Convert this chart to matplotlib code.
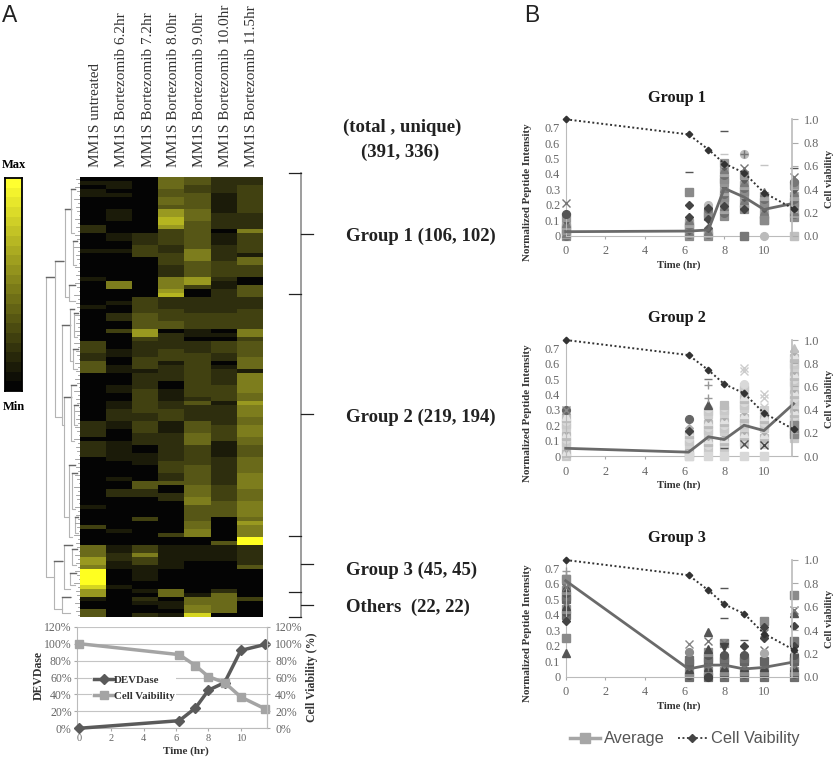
import numpy as np
import matplotlib
matplotlib.use("Agg")
import matplotlib.pyplot as plt
from matplotlib.colors import LinearSegmentedColormap
from matplotlib.lines import Line2D

W, H = 837, 758
SERIF = "Liberation Serif"
SANS = "Liberation Sans"

# heatmap levels 0-10, run length coded (rows, level), one list per column
sample_labels = ["MM1S untreated", "MM1S Bortezomib 6.2hr", "MM1S Bortezomib 7.2hr",
                 "MM1S Bortezomib 8.0hr", "MM1S Bortezomib 9.0hr",
                 "MM1S Bortezomib 10.0hr", "MM1S Bortezomib 11.5hr"]
col0 = [(1,0),(1,1),(1,0),(2,1),(7,0),(2,2),(4,0),(1,1),(6,0),(1,1),(6,0),(1,1),(8,0),(3,3),(2,2),(3,4),
        (12,0),(4,2),(1,0),(4,2),(12,0),(1,1),(4,0),(1,3),(4,0),(3,5),(2,7),(1,6),(4,10),(1,9),(2,7),(1,1),(2,0),(2,4)]
col1 = [(1,0),(2,1),(1,0),(1,1),(3,0),(3,1),(3,0),(2,1),(2,0),(1,1),(7,0),(2,6),(3,0),(1,1),(2,0),(2,2),(2,0),(1,3),(2,0),
        (2,0),(2,1),(2,0),(2,1),(3,0),(2,1),(2,0),(2,1),(3,2),(2,1),(3,0),(5,1),(4,0),(1,1),(2,0),(2,2),(8,0),(1,1),(3,0),
        (2,1),(2,2),(2,1),(4,0),(1,1),(7,0)]
col2 = [(14,0),(3,2),(3,3),(10,0),(4,3),(4,4),(2,7),(1,3),(4,2),(3,3),(1,1),(4,2),(3,3),(3,3),(2,2),(3,3),(3,2),(2,0),(3,1),
        (4,0),(2,4),(2,2),(5,0),(1,3),(6,0),(2,3),(1,6),(2,3),(4,1),(2,0),(1,1),(1,0),(1,2),(1,1),(2,0),(1,2)]
col3 = [(3,5),(2,4),(2,5),(1,4),(2,7),(2,8),(1,7),(1,3),(3,3),(2,2),(3,3),(3,2),(3,6),(1,7),(1,8),(3,2),(3,3),(2,4),(1,0),
        (4,2),(3,3),(1,1),(4,2),(2,0),(3,1),(2,2),(3,3),(3,1),(3,2),(4,2),(3,3),(2,2),(1,4),(2,0),(2,2),(8,0),(1,3),(2,0),
        (6,1),(5,0),(2,5),(1,0),(2,1),(1,0),(1,1)]
col4 = [(2,4),(2,3),(4,4),(3,5),(3,4),(4,4),(3,6),(4,4),(2,7),(1,3),(2,0),(4,2),(4,3),(2,1),(1,0),(3,2),(3,3),(4,3),(4,3),
        (1,2),(1,4),(4,2),(3,4),(3,5),(5,3),(5,4),(3,5),(2,6),(4,4),(2,5),(2,6),(2,0),(4,1),(8,0),(1,1),(2,5),(2,6),(1,9)]
col5 = [(4,2),(5,1),(4,2),(1,0),(3,1),(4,2),(4,3),(1,2),(2,1),(2,2),(4,2),(4,3),(1,0),(1,1),(1,0),(3,3),(2,2),(1,0),(1,1),
        (4,2),(4,3),(1,1),(5,2),(4,3),(4,1),(7,2),(4,3),(4,4),(6,0),(1,4),(4,1),(7,0),(1,2),(5,5),(1,0)]
col6 = [(2,2),(7,3),(4,2),(1,6),(5,3),(1,1),(2,5),(3,3),(2,0),(3,4),(3,2),(5,3),(2,6),(1,3),(4,4),(3,5),(1,1),(5,6),(2,5),(1,7),
        (3,6),(2,5),(3,6),(2,5),(3,4),(4,5),(4,6),(3,5),(4,6),(1,5),(1,7),(3,6),(2,10),(5,2),(1,4),(7,0),(1,3),(4,0)]
heat_cols = [col0, col1, col2, col3, col4, col5, col6]

# dendrogram nodes: (left x, top row, bottom row, top child x, bottom child x), x in px from panel left
dend_nodes = [(1,25,100,10,9),(10,21,60,20,17),(20,8,30,26,24),(26,3,14,30,29),(28,16,22,32,31),(24,27,31,30,30),
              (17,37,62,25,19),(25,33,46,29,28),(29,34,40,33,32),(28,43,48,33,32),(19,55,85,26,24),(26,52,66,31,29),
              (29,57,62,33,32),(24,72,90,30,27),(27,74,83,32,30),(30,85,89,33,33),(9,96,108,19,17),(19,92,103,27,25),
              (27,93,97,32,31),(25,99,102,31,30),(17,105,109,26,25)]
leaf_offsets = [31,33,30,32,34,29,33,31,32,34,30,33]

# DEVDase panel
time_hr = [0, 6.2, 7.2, 8, 9, 10, 11.5]
devdase = [0, 9, 24, 45, 54, 92, 99]
cell_viability_pct = [100, 87, 74, 61, 54, 37, 23]

# panel B
viability = [1.0, 0.87, 0.74, 0.62, 0.54, 0.37, 0.23]
g1_avg = [0.026, 0.03, 0.037, 0.307, 0.25, 0.17, 0.21]
g2_avg = [0.05, 0.025, 0.125, 0.107, 0.2, 0.165, 0.34]
g3_avg = [0.62, 0.05, 0.075, 0.075, 0.05, 0.06, 0.095]

g1_cols = [[0,0,.01,.02,.03,.04,.05,.06,.07,.08,.1,.12],
           [0,.01,.02,.03,.04,.05,.06,.07,.08,.1],
           [0,.01,.02,.03,.05,.13,.15,.17],
           [.13,.15,.17,.19,.21,.23,.25,.27,.29,.31,.33,.35,.37,.39,.41,.43,.45,.47],
           [.17,.19,.21,.23,.25,.27,.29,.31,.33,.35,.37,.39],
           [.1,.12,.14,.16,.18,.2,.22,.24,.26,.28],
           [.12,.14,.15,.16,.18,.2,.22,.24,.26,.28,.3,.33]]
g1_extra = [(0,.21,'x','#777777'),(0,.14,'o','#555555'),(6.2,.12,'D','#444444'),(6.2,.2,'D','#444444'),(6.2,.28,'s','#8a8a8a'),
            (6.2,.41,'_','#555555'),(7.2,.2,'o','#bbbbbb'),(7.2,.18,'D','#444444'),(7.2,.11,'D','#444444'),(8,.53,'_','#c4c4c4'),
            (8,.68,'_','#555555'),(8,.19,'D','#444444'),(9,.53,'o','#bbbbbb'),(9,.53,'+','#777777'),(9,.44,'x','#777777'),
            (9,.17,'D','#444444'),(9,0,'s','#777777'),(10,.46,'_','#c4c4c4'),(10,.1,'s','#8a8a8a'),(10,0,'o','#bbbbbb'),
            (11.5,.38,'x','#777777'),(11.5,.35,'o','#777777'),(11.5,.44,'_','#555555'),(11.5,0,'s','#c0c0c0')]

g2_cols = [[0,.01,.02,.03,.05,.07,.09,.11,.13,.15,.17,.19,.21,.23,.25,.26],
           [0,.01,.02,.04,.06,.08,.1,.12,.14,.16,.18],
           [.05,.07,.09,.11,.13,.15,.17,.19,.21,.23,.25,.27,.29,.31],
           [.06,.08,.1,.12,.14,.16,.18,.2,.22,.24,.26,.28,.3,.32,.33],
           [.09,.11,.13,.15,.17,.19,.21,.23,.25,.27,.29,.31,.33,.35,.37,.39,.41,.43,.45,.47],
           [.08,.1,.12,.14,.16,.18,.2,.22,.24,.26,.28,.3],
           [.12,.14,.16,.18,.2,.22,.24,.26,.28,.3,.32,.34,.36,.38,.4,.42,.44,.46,.48,.5,.52,.54,.56,.58,.6,.62,.64,.66,.68]]
g2_extra = [(0,.3,'o','#666666'),(0,.3,'x','#888888'),(6.2,.24,'o','#666666'),(6.2,.16,'D','#444444'),(6.2,0,'s','#d8d8d8'),
            (7.2,.33,'^','#555555'),(7.2,.38,'+','#999999'),(7.2,.46,'+','#999999'),(7.2,.5,'_','#777777'),(7.2,0,'s','#d8d8d8'),
            (8,0,'s','#d8d8d8'),(8,.05,'_','#555555'),(9,.57,'x','#cccccc'),(9,.55,'x','#cccccc'),(9,.08,'x','#555555'),
            (9,0,'s','#d8d8d8'),(10,.4,'x','#cccccc'),(10,.38,'x','#cccccc'),(10,.32,'x','#cccccc'),(10,.07,'x','#444444'),
            (10,0,'s','#d8d8d8'),(11.5,.7,'^','#c0c0c0'),(11.5,.2,'s','#888888'),(11.5,.17,'D','#777777'),(11.5,.14,'s','#888888')]

g3_cols = [[.4,.42,.44,.46,.48,.5,.52,.54,.56,.58,.6],
           [0,.01,.03,.05,.07,.09,.11],
           [0,.02,.04,.06,.08,.1,.12,.14,.16,.18],
           [0,.02,.04,.06,.08,.1,.12,.14],
           [0,.02,.04,.06,.08,.1,.12,.14],
           [0,.02,.04,.06,.08,.1],
           [0,.02,.04,.06,.08,.1,.12,.14]]
g3_extra = [(0,.25,'s','#8a8a8a'),(0,.15,'^','#555555'),(0,.36,'D','#444444'),(0,.58,'x','#777777'),(0,.66,'+','#999999'),
            (0,.68,'+','#999999'),(0,.63,'s','#8a8a8a'),(6.2,.16,'o','#8a8a8a'),(6.2,.21,'x','#888888'),(7.2,.29,'^','#555555'),
            (7.2,.23,'x','#777777'),(7.2,0,'o','#444444'),(7.2,.06,'+','#777777'),(8,.22,'s','#8a8a8a'),(8,.22,'x','#777777'),
            (8,.57,'_','#555555'),(8,.38,'_','#555555'),(8,.19,'v','#444444'),(9,.24,'_','#555555'),(9,.2,'D','#444444'),
            (10,.36,'s','#8a8a8a'),(10,.28,'x','#777777'),(10,.17,'x','#777777'),(10,.25,'D','#444444'),(10,.32,'D','#444444'),
            (10,.15,'o','#aaaaaa'),(11.5,.53,'s','#8a8a8a'),(11.5,.41,'^','#555555'),(11.5,.43,'x','#777777'),(11.5,.33,'D','#444444'),
            (11.5,.23,'s','#777777'),(11.5,.2,'D','#444444')]

g1_colors = ['#8c8c8c','#6e6e6e','#a3a3a3','#7a7a7a','#5c5c5c','#969696']
g2_colors = ['#c9c9c9','#d9d9d9','#bcbcbc','#e2e2e2','#adadad','#d0d0d0']
g3_colors = ['#6e6e6e','#555555','#8c8c8c','#4a4a4a','#7a7a7a','#646464']
cycle_markers = ['s','o','s','^','D','s']
marker_sizes = {'s':5.6,'o':5.6,'^':5.6,'v':5.6,'D':3.7,'x':5.5,'+':6,'_':6}


def axes_px(fig, left, top, right, bottom):
    return fig.add_axes([left / W, 1 - bottom / H, (right - left) / W, (bottom - top) / H])


def fig_text(fig, x, y, s, **kw):
    kw.setdefault("family", SERIF)
    kw.setdefault("ha", "center")
    kw.setdefault("va", "center")
    fig.text(x / W, 1 - y / H, s, **kw)


fig = plt.figure(figsize=(W / 100, H / 100), dpi=100)

# letters
fig_text(fig, 10, 16, "A", family=SANS, fontsize=16.5, color="#222222")
fig_text(fig, 532, 16, "B", family=SANS, fontsize=16.5, color="#222222")

# heatmap
heat_cmap = LinearSegmentedColormap.from_list("by", ["#040404", "#1c1c0a", "#2e2e0e", "#424212", "#565616", "#6a6a1a",
                                                     "#7e7e1e", "#999920", "#b5b520", "#d5d520", "#ffff20"])
bar_cmap = LinearSegmentedColormap.from_list("bar", ["#040404", "#ffff30"])
heat = np.column_stack([np.repeat([r[1] for r in c], [r[0] for r in c]) for c in heat_cols])
ax = axes_px(fig, 80, 177, 263, 617)
ax.imshow(heat, cmap=heat_cmap, vmin=0, vmax=10, aspect="auto", interpolation="nearest")
ax.axis("off")

for i, label in enumerate(sample_labels):
    fig_text(fig, 96 + i * 26, 167, label, rotation=90, va="bottom", fontsize=11, color="#333333")

# dendrogram
ax = axes_px(fig, 45, 177, 80, 617)
ax.set_xlim(0, 35)
ax.set_ylim(110, 0)
ax.axis("off")
for x0, r0, r1, xa, xb in dend_nodes:
    ax.plot([xa, x0, x0, xb], [r0, r0, r1, r1], color="#b4b4b4", lw=0.8)
    ax.plot([x0, min(xa, x0 + 8)], [r0, r0], color="#666666", lw=1.0)
for r in range(110):
    off = leaf_offsets[r % len(leaf_offsets)]
    ax.plot([off, 35], [r + 0.5, r + 0.5], color="#999999", lw=0.6)

# colour bar
ax = axes_px(fig, 5, 178, 22, 391)
ax.imshow(np.arange(21, -1, -1).reshape(-1, 1), cmap=bar_cmap, aspect="auto", interpolation="nearest")
ax.set_xticks([])
ax.set_yticks([])
for s in ax.spines.values():
    s.set_linewidth(1.3)
fig_text(fig, 14, 165, "Max", fontweight="bold", fontsize=9)
fig_text(fig, 14, 407, "Min", fontweight="bold", fontsize=9)

# group labels and brackets
fig_text(fig, 402, 127, "(total , unique)", fontweight="bold", fontsize=13.5, color="#222222")
fig_text(fig, 400, 152, "(391, 336)", fontweight="bold", fontsize=13.5, color="#222222")
for y, s in zip([236, 417, 570, 607],
                ["Group 1 (106, 102)", "Group 2 (219, 194)", "Group 3 (45, 45)", "Others  (22, 22)"]):
    fig_text(fig, 346, y, s, fontweight="bold", fontsize=13.5, ha="left", color="#222222")
fig.add_artist(Line2D([301 / W, 301 / W], [1 - 173 / H, 1 - 617 / H], color="#8c8c8c", lw=1.2))
for y in [173, 294, 536, 592, 617]:
    fig.add_artist(Line2D([289 / W, 301 / W], [1 - y / H, 1 - y / H], color="#222222", lw=0.9))
for y in [234, 414, 564, 605]:
    fig.add_artist(Line2D([301 / W, 313 / W], [1 - y / H, 1 - y / H], color="#222222", lw=0.9))

# DEVDase / viability
ax = axes_px(fig, 77.3, 626.7, 266.7, 728.3)
ax.set_xlim(-0.1, 11.6)
ax.set_ylim(0, 120)
ax.set_yticks(range(0, 121, 20))
ax.set_yticklabels([f"{v}%" for v in range(0, 121, 20)], family=SERIF, fontsize=8.5, color="#666666")
ax.set_xticks(range(0, 11, 2))
ax.set_xticklabels(range(0, 11, 2), family=SERIF, fontsize=7.5, color="#666666")
ax.tick_params(length=2, color="#aaaaaa", pad=2)
ax.grid(axis="y", color="#c4c4c4", lw=0.8)
ax.set_axisbelow(True)
ax.spines["top"].set_visible(False)
for name in ["left", "right", "bottom"]:
    ax.spines[name].set_color("#bbbbbb")
ax.plot(time_hr, devdase, color="#5a5a5a", lw=2.5, marker="D", ms=4.8, clip_on=False, label="DEVDase", zorder=3)
ax.plot(time_hr, cell_viability_pct, color="#a4a4a4", lw=2.5, marker="s", ms=6, clip_on=False, label="Cell Vaibility", zorder=4)
ax.legend(loc="upper left", bbox_to_anchor=(0.08, 0.53), frameon=True, framealpha=1, edgecolor="none", fancybox=False,
          prop={"family": SERIF, "size": 7.8, "weight": "bold"}, labelspacing=0.55, handlelength=1.9, handletextpad=0,
          borderpad=0.1, borderaxespad=0, labelcolor="#333333")
ax2 = ax.twinx()
ax2.set_ylim(0, 120)
ax2.set_yticks(range(0, 121, 20))
ax2.set_yticklabels([f"{v}%" for v in range(0, 121, 20)], family=SERIF, fontsize=8.5, color="#666666")
ax2.tick_params(length=2, color="#aaaaaa", pad=4)
for name in ["top", "left", "bottom"]:
    ax2.spines[name].set_visible(False)
ax2.spines["right"].set_color("#bbbbbb")
fig_text(fig, 39, 675, "DEVDase", rotation=90, fontweight="bold", fontsize=8.5, color="#333333")
fig_text(fig, 312, 677, "Cell Viability (%)", rotation=90, fontweight="bold", fontsize=8.5, color="#333333")
fig_text(fig, 186, 751, "Time (hr)", fontweight="bold", fontsize=8, color="#333333")


def panel(title, title_y, zero_y, one_y, cols, extra, colors, avg):
    ax = axes_px(fig, 565.7, one_y, 792.3, zero_y)
    ax.set_xlim(0, 11.43)
    ax.set_ylim(0, 0.754)
    for t, vals in zip(time_hr, cols):
        for i, v in enumerate(vals):
            m = cycle_markers[i % len(cycle_markers)]
            c = colors[i % len(colors)]
            ax.plot([t], [v], marker=m, ms=marker_sizes[m], color=c, mew=0.9, ls="none", clip_on=False, zorder=2)
    for t, v, m, c in extra:
        ax.plot([t], [v], marker=m, ms=marker_sizes[m], color=c, mew=1.0, ls="none", clip_on=False, zorder=3)
    ax.plot(time_hr, avg, color="#6a6a6a", lw=2, clip_on=False, zorder=4)
    ax.set_yticks([0, .1, .2, .3, .4, .5, .6, .7])
    ax.set_yticklabels(["0", "0.1", "0.2", "0.3", "0.4", "0.5", "0.6", "0.7"], family=SERIF, fontsize=8.8, color="#666666")
    ax.set_xticks(range(0, 11, 2))
    ax.set_xticklabels(range(0, 11, 2), family=SERIF, fontsize=8.8, color="#666666")
    ax.tick_params(axis="x", length=2, color="#aaaaaa", pad=5)
    ax.tick_params(axis="y", length=0, pad=4)
    ax.spines["top"].set_visible(False)
    ax.spines["right"].set_visible(False)
    ax.spines["left"].set_color("#bbbbbb")
    ax.spines["bottom"].set_color("#bbbbbb")
    ax.patch.set_alpha(0)
    ax2 = ax.twinx()
    ax2.set_ylim(0, 1)
    ax2.set_yticks([0, .2, .4, .6, .8, 1])
    ax2.set_yticklabels(["0.0", "0.2", "0.4", "0.6", "0.8", "1.0"], family=SERIF, fontsize=8.8, color="#666666")
    ax2.tick_params(axis="y", length=4, color="#aaaaaa", pad=4)
    ax2.plot(time_hr, viability, color="#333333", lw=1.4, ls=(0, (1, 1.3)), marker="D", ms=3.3, clip_on=False, zorder=5)
    for s in ["top", "left", "bottom"]:
        ax2.spines[s].set_visible(False)
    ax2.spines["right"].set_color("#bbbbbb")
    ax2.spines["right"].set_linewidth(1.2)
    fig_text(fig, 677, title_y, title, fontweight="bold", fontsize=11.7, color="#1a1a1a")
    mid = (zero_y + one_y) / 2
    fig_text(fig, 527.5, mid + 15, "Normalized Peptide Intensity", rotation=90, fontweight="bold", fontsize=7.9, color="#333333")
    fig_text(fig, 830, mid + 1, "Cell viability", rotation=90, fontweight="bold", fontsize=7.7, color="#333333")
    fig_text(fig, 679, zero_y + 29, "Time (hr)", fontweight="bold", fontsize=7.7, color="#333333")


panel("Group 1", 98, 235.7, 119.3, g1_cols, g1_extra, g1_colors, g1_avg)
panel("Group 2", 318, 456, 340, g2_cols, g2_extra, g2_colors, g2_avg)
panel("Group 3", 538, 676.7, 560, g3_cols, g3_extra, g3_colors, g3_avg)

handles = [Line2D([], [], color="#a6a6a6", lw=2.5, marker="s", ms=6.5, label="Average"),
           Line2D([], [], color="#444444", lw=1.4, ls=(0, (1, 1.3)), marker="D", ms=4.5, label="Cell Vaibility")]
fig.legend(handles=handles, loc="center", bbox_to_anchor=(685 / W, 1 - 739 / H), ncol=2, frameon=False,
           prop={"family": SANS, "size": 11.8}, labelcolor="#555555", handlelength=1.8, handletextpad=0.25, columnspacing=0.8)

fig.savefig("out.png", dpi=100)
